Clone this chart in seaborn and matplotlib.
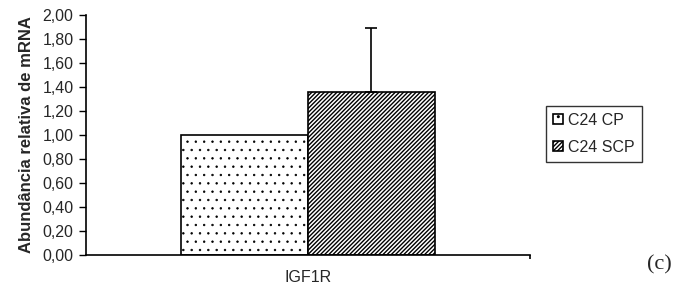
import matplotlib
matplotlib.use("Agg")
import matplotlib.pyplot as plt
from matplotlib.ticker import FixedLocator, FuncFormatter
import pandas as pd
import seaborn as sns

genes = ["IGF1R"]
groups = ["C24 CP", "C24 SCP"]
values = [1.00, 1.36]
errors_up = [0.00, 0.53]
hatches = ["..", "////////"]
hatch_widths = [0.5, 1.0]

df = pd.DataFrame({
    "gene": genes * len(groups),
    "group": groups,
    "value": values,
})

sns.set_style("white")
plt.rcParams["font.family"] = ["Liberation Sans", "DejaVu Sans"]
plt.rcParams["hatch.linewidth"] = 1.0
plt.rcParams["hatch.color"] = "black"

fig = plt.figure(figsize=(6.81, 2.91), dpi=100)
ax = fig.add_axes([86 / 681, 1 - 255 / 291, (530 - 86) / 681, (255 - 15) / 291])

sns.barplot(data=df, x="gene", y="value", hue="group", palette=["white", "white"],
            edgecolor="black", linewidth=1.2, width=0.572, errorbar=None,
            legend=False, ax=ax)

for cont, h, hw, err in zip(ax.containers, hatches, hatch_widths, errors_up):
    for bar in cont:
        bar.set_hatch(h)
        if hasattr(bar, "set_hatch_linewidth"):
            bar.set_hatch_linewidth(hw)
        bar.set_edgecolor("black")
        if err > 0:
            cx = bar.get_x() + bar.get_width() / 2
            ax.errorbar(cx, bar.get_height(), yerr=[[0], [err]], fmt="none",
                        ecolor="black", elinewidth=1.2, capsize=4, capthick=1.2)

ax.set_xlim(-0.5, 0.5)
ax.set_ylim(0, 2.0)
ax.set_yticks([i * 0.2 for i in range(11)])
ax.yaxis.set_major_formatter(FuncFormatter(lambda v, p: f"{v:.2f}".replace(".", ",")))
ax.tick_params(axis="y", direction="out", length=5, width=1, labelsize=11.5, pad=4,
               left=True, color="black")
ax.tick_params(axis="x", which="major", length=0, labelsize=11.5, pad=11)
ax.xaxis.set_minor_locator(FixedLocator([0.5]))
ax.tick_params(axis="x", which="minor", direction="out", length=3, width=1.2,
               bottom=True, color="black")
ax.set_xlabel("")
ax.set_ylabel("Abundância relativa de mRNA", fontsize=12, fontweight="bold", labelpad=6)

sns.despine(ax=ax)
for s in ["left", "bottom"]:
    ax.spines[s].set_color("black")
    ax.spines[s].set_linewidth(1.2)

leg = ax.legend(ax.containers, groups, loc="center left",
                bbox_to_anchor=(546 / 681, 1 - 134 / 291), bbox_transform=fig.transFigure,
                fontsize=11.5, frameon=True, fancybox=False, handlelength=0.6,
                handleheight=0.6, handletextpad=0.35, labelspacing=0.75,
                borderpad=0.45, borderaxespad=0)
leg.get_frame().set_edgecolor("black")
leg.get_frame().set_linewidth(1.0)

fig.text(647 / 681, 1 - 265 / 291, "(c)", fontsize=16, family=["Liberation Serif"],
         ha="left", va="center")

fig.savefig("out.png", dpi=100)
